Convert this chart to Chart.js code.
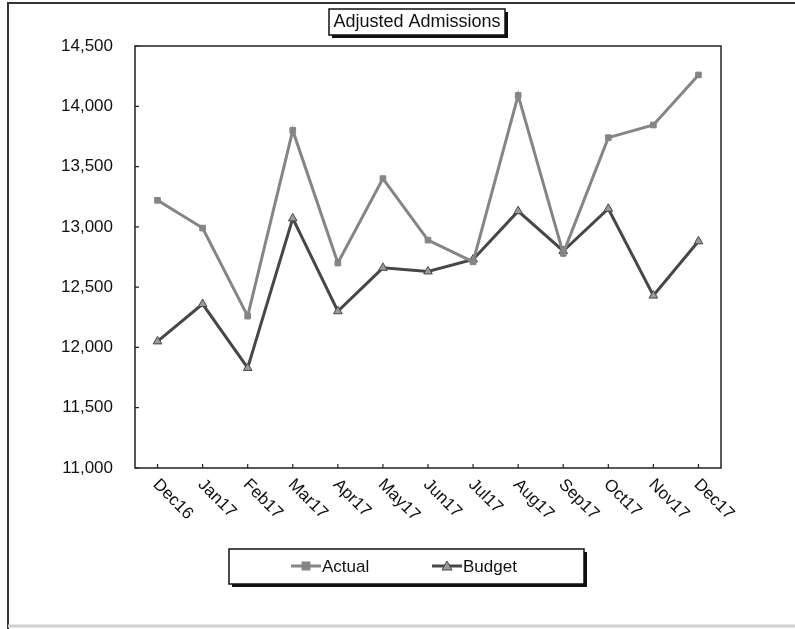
<!DOCTYPE html>
<html lang="en">
<head>
    <meta charset="UTF-8">
    <title>Adjusted Admissions</title>
    <script src="https://cdn.jsdelivr.net/npm/chart.js"></script>
    <style>
        body {
            margin: 0;
            background: #ffffff;
        }
        #wrap {
            width: 795px;
            height: 629px;
        }
    </style>
</head>
<body>
    <div id="wrap">
        <canvas id="admissions" width="795" height="629"></canvas>
    </div>

    <script>
        const months = ['Dec16', 'Jan17', 'Feb17', 'Mar17', 'Apr17', 'May17', 'Jun17',
                        'Jul17', 'Aug17', 'Sep17', 'Oct17', 'Nov17', 'Dec17'];
        const actual = [13220, 12990, 12260, 13800, 12700, 13400, 12890,
                        12710, 14090, 12780, 13740, 13845, 14260];
        const budget = [12050, 12360, 11830, 13070, 12300, 12660, 12630,
                        12730, 13130, 12800, 13150, 12430, 12880];
        const yMin = 11000;
        const yMax = 14500;
        const yStep = 500;

        const FONT = '"Liberation Sans", Arial, sans-serif';
        const ACTUAL_COLOR = '#858585';
        const BUDGET_COLOR = '#474747';

        function boxWithShadow(ctx, x, y, w, h) {
            ctx.fillStyle = '#111';
            ctx.fillRect(x + 3, y + 3, w, h);
            ctx.fillStyle = '#fff';
            ctx.fillRect(x, y, w, h);
            ctx.strokeStyle = '#111';
            ctx.lineWidth = 1.5;
            ctx.strokeRect(x, y, w, h);
        }

        function legendSample(ctx, x, y, color, style, markFill) {
            ctx.strokeStyle = color;
            ctx.lineWidth = 3;
            ctx.beginPath();
            ctx.moveTo(x, y);
            ctx.lineTo(x + 30, y);
            ctx.stroke();
            const cx = x + 15;
            ctx.fillStyle = markFill;
            ctx.strokeStyle = color;
            ctx.lineWidth = 1;
            if (style === 'rect') {
                ctx.fillRect(cx - 4, y - 4, 8, 8);
                ctx.strokeRect(cx - 4, y - 4, 8, 8);
            } else {
                ctx.beginPath();
                ctx.moveTo(cx, y - 5);
                ctx.lineTo(cx + 5, y + 4);
                ctx.lineTo(cx - 5, y + 4);
                ctx.closePath();
                ctx.fill();
                ctx.stroke();
            }
        }

        // plot frame, inside tick marks, slanted month labels, title and legend boxes
        const excelLook = {
            id: 'excelLook',
            beforeDatasetsDraw(chart) {
                const { ctx, chartArea: a, scales } = chart;
                ctx.save();
                ctx.strokeStyle = '#222';
                ctx.lineWidth = 1.5;
                ctx.strokeRect(a.left, a.top, a.right - a.left, a.bottom - a.top);
                ctx.lineWidth = 1.2;
                ctx.beginPath();
                months.forEach((m, i) => {
                    const x = scales.x.getPixelForValue(i);
                    ctx.moveTo(x, a.bottom);
                    ctx.lineTo(x, a.bottom - 4);
                });
                scales.y.ticks.forEach(t => {
                    const y = scales.y.getPixelForValue(t.value);
                    ctx.moveTo(a.left, y);
                    ctx.lineTo(a.left + 4, y);
                });
                ctx.stroke();
                ctx.restore();
            },
            afterDraw(chart) {
                const { ctx, chartArea: a, scales } = chart;
                ctx.save();

                // month labels running down to the right
                ctx.fillStyle = '#111';
                ctx.font = '17px ' + FONT;
                ctx.textAlign = 'left';
                ctx.textBaseline = 'middle';
                months.forEach((m, i) => {
                    const x = scales.x.getPixelForValue(i);
                    ctx.save();
                    ctx.translate(x - 2, a.bottom + 14);
                    ctx.rotate(Math.PI / 4);
                    ctx.fillText(m, 0, 0);
                    ctx.restore();
                });

                // title
                boxWithShadow(ctx, 329, 9, 176, 26);
                ctx.fillStyle = '#111';
                ctx.font = '18px ' + FONT;
                ctx.textAlign = 'center';
                ctx.fillText('Adjusted Admissions', 417, 22);

                // legend
                boxWithShadow(ctx, 229, 549, 355, 35);
                legendSample(ctx, 291, 566, ACTUAL_COLOR, 'rect', ACTUAL_COLOR);
                legendSample(ctx, 432, 566, BUDGET_COLOR, 'triangle', '#9a9a9a');
                ctx.fillStyle = '#111';
                ctx.font = '17px ' + FONT;
                ctx.textAlign = 'left';
                ctx.fillText('Actual', 322, 567);
                ctx.fillText('Budget', 463, 567);

                // outer frame of the sheet
                ctx.strokeStyle = '#333';
                ctx.lineWidth = 2;
                ctx.beginPath();
                ctx.moveTo(8, 629);
                ctx.lineTo(8, 3);
                ctx.lineTo(795, 3);
                ctx.stroke();
                ctx.strokeStyle = '#cfcfcf';
                ctx.lineWidth = 3;
                ctx.beginPath();
                ctx.moveTo(8, 626);
                ctx.lineTo(795, 626);
                ctx.stroke();
                ctx.restore();
            }
        };

        new Chart(document.getElementById('admissions'), {
            type: 'line',
            data: {
                labels: months,
                datasets: [{
                    label: 'Actual',
                    data: actual,
                    borderColor: ACTUAL_COLOR,
                    backgroundColor: ACTUAL_COLOR,
                    borderWidth: 3,
                    pointStyle: 'rect',
                    pointRadius: 4,
                    pointBorderWidth: 1,
                    tension: 0
                }, {
                    label: 'Budget',
                    data: budget,
                    borderColor: BUDGET_COLOR,
                    backgroundColor: '#9a9a9a',
                    borderWidth: 3,
                    pointStyle: 'triangle',
                    pointRadius: 5,
                    pointBorderWidth: 1,
                    tension: 0
                }]
            },
            options: {
                responsive: false,
                animation: false,
                layout: {
                    padding: { top: 46, right: 74, bottom: 0, left: 0 }
                },
                plugins: {
                    legend: { display: false },
                    title: { display: false },
                    tooltip: { enabled: false }
                },
                scales: {
                    x: {
                        offset: true,
                        grid: { display: false, drawTicks: false },
                        border: { display: false },
                        ticks: { display: false },
                        afterFit(scale) { scale.height = 161; }
                    },
                    y: {
                        min: yMin,
                        max: yMax,
                        grid: { display: false, drawTicks: false },
                        border: { display: false },
                        ticks: {
                            stepSize: yStep,
                            padding: 22,
                            color: '#111',
                            font: { family: FONT, size: 17 }
                        },
                        afterFit(scale) { scale.width = 135; }
                    }
                }
            },
            plugins: [excelLook]
        });
    </script>
</body>
</html>
